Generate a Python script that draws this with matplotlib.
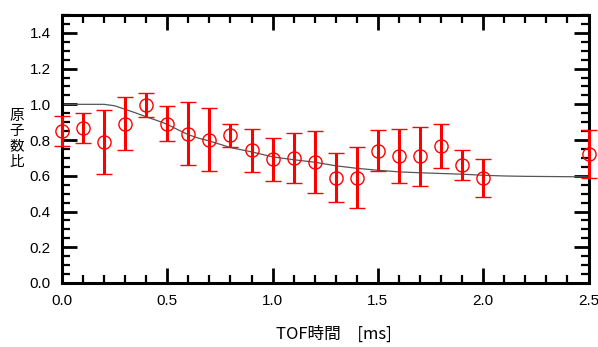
import matplotlib
matplotlib.use("Agg")
import matplotlib.pyplot as plt
from matplotlib.ticker import MultipleLocator

plt.rcParams['font.family'] = ['Noto Sans CJK JP', 'DejaVu Sans']

# Measured data
tof = [0.0, 0.1, 0.2, 0.3, 0.4, 0.5, 0.6, 0.7, 0.8, 0.9, 1.0, 1.1, 1.2,
       1.3, 1.4, 1.5, 1.6, 1.7, 1.8, 1.9, 2.0, 2.5]
ratio = [0.85, 0.868, 0.79, 0.892, 0.996, 0.892, 0.836, 0.803, 0.827, 0.743,
         0.693, 0.697, 0.676, 0.59, 0.59, 0.741, 0.711, 0.709, 0.767, 0.661,
         0.589, 0.722]
err = [0.085, 0.085, 0.18, 0.15, 0.067, 0.10, 0.175, 0.175, 0.065, 0.12,
       0.12, 0.14, 0.175, 0.135, 0.17, 0.115, 0.15, 0.165, 0.125, 0.083,
       0.105, 0.136]

# Model curve
curve_x = [0.0, 0.1, 0.2, 0.25, 0.3, 0.35, 0.4, 0.45, 0.5, 0.55, 0.6, 0.65,
           0.7, 0.8, 0.9, 1.0, 1.1, 1.2, 1.3, 1.4, 1.5, 1.6, 1.7, 1.8, 1.9,
           2.0, 2.1, 2.2, 2.3, 2.4, 2.5]
curve_y = [1.0, 1.0, 1.0, 0.992, 0.972, 0.952, 0.93, 0.91, 0.888, 0.858,
           0.83, 0.81, 0.795, 0.758, 0.734, 0.706, 0.69, 0.676, 0.656, 0.642,
           0.631, 0.622, 0.617, 0.613, 0.609, 0.603, 0.599, 0.597, 0.596,
           0.595, 0.594]

xticks = [0.0, 0.5, 1.0, 1.5, 2.0, 2.5]
yticks = [0.0, 0.2, 0.4, 0.6, 0.8, 1.0, 1.2, 1.4]

fig = plt.figure(figsize=(5.98, 3.47), dpi=100)
ax = fig.add_axes([62/598, 1 - 283/347, (588.5 - 62)/598, (283 - 15)/347])

ax.plot(curve_x, curve_y, color='#555555', lw=0.9, zorder=2)
ax.errorbar(tof, ratio, yerr=err, fmt='o', mfc='none', mec='red', mew=1.0,
            ms=9.5, ecolor='red', elinewidth=2.2, capsize=5.5, capthick=2.2,
            color='red', zorder=3, clip_on=False)

ax.set_xlim(0, 2.5)
ax.set_ylim(0, 1.5)
ax.set_xticks(xticks)
ax.set_xticklabels([f"{v:.1f}" for v in xticks], family='Liberation Sans')
ax.set_yticks(yticks)
ax.set_yticklabels([f"{v:.1f}" for v in yticks], family='Liberation Sans')
ax.xaxis.set_minor_locator(MultipleLocator(0.1))
ax.yaxis.set_minor_locator(MultipleLocator(0.05))

for s in ax.spines.values():
    s.set_linewidth(2.2)
    s.set_color('black')

ax.tick_params(which='both', direction='in', top=True, right=True,
               labelsize=11, colors='black')
ax.tick_params(which='major', length=11, width=2.0, pad=8)
ax.tick_params(which='minor', length=6, width=1.6)

ax.text(0.517, -0.19, "TOF時間　[ms]", transform=ax.transAxes,
        fontsize=12, ha='center', va='center')
fig.text(17/598, 1 - 139/347, "原\n子\n数\n比", fontsize=10.5,
         ha='center', va='center', linespacing=1.1)

fig.savefig("out.png", dpi=100)
